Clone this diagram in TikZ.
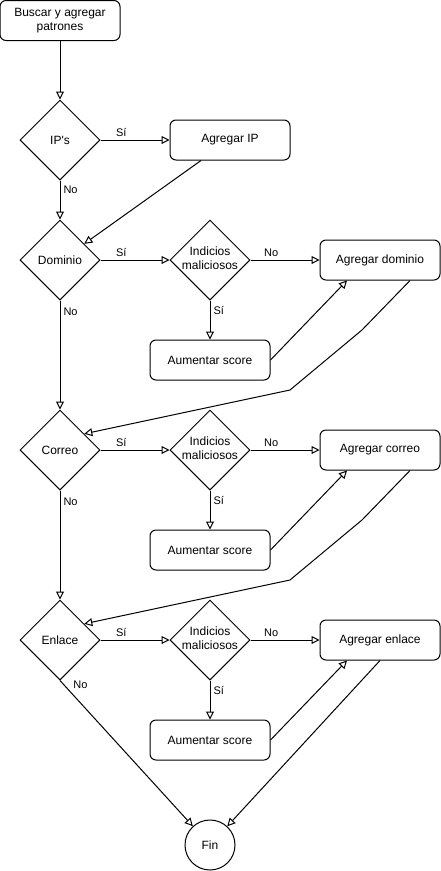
\documentclass[tikz,border=0pt]{standalone}
\usepackage{fontspec}
\setmainfont{Liberation Sans}
\usetikzlibrary{shapes.geometric,arrows.meta,calc}
\begin{document}
\begin{tikzpicture}[x=1pt,y=-1pt,
  every node/.style={font=\fontsize{12}{14}\selectfont},
  proc/.style={draw, rounded corners=6pt, minimum width=120pt, minimum height=40pt, inner sep=0pt, align=center, line width=1pt},
  decision/.style={draw, diamond, minimum width=80pt, minimum height=80pt, inner sep=0pt, align=center, line width=1pt},
  endc/.style={draw, circle, minimum size=50pt, inner sep=0pt, line width=1pt},
  arr/.style={draw, line width=1pt, -{Triangle[open, length=8pt, width=8pt]}},
  lbl/.style={font=\fontsize{11}{13}\selectfont, inner sep=1pt}
]
\useasboundingbox (0,0) rectangle (441,871);

\newcommand{\indtxt}{\makebox[40pt]{\begin{tabular}{@{}c@{}}Indicios\\maliciosos\end{tabular}}}

\node[proc] (start) at (60,20.5) {Buscar y agregar\\patrones};
\node[decision] (ip) at (60,140) {IP\textquotesingle s};
\node[proc] (agip) at (230,140) {Agregar IP};

\node[decision] (dom) at (60,260) {Dominio};
\node[decision] (ind1) at (210,260) {\indtxt};
\node[proc] (adom) at (380,260) {Agregar dominio};
\node[proc] (aum1) at (210,360) {Aumentar score};

\node[decision] (cor) at (60,450) {Correo};
\node[decision] (ind2) at (210,450) {\indtxt};
\node[proc] (acor) at (380,450) {Agregar correo};
\node[proc] (aum2) at (210,550) {Aumentar score};

\node[decision] (enl) at (60,640) {Enlace};
\node[decision] (ind3) at (210,640) {\indtxt};
\node[proc] (aenl) at (380,640) {Agregar enlace};
\node[proc] (aum3) at (210,740) {Aumentar score};

\node[endc] (fin) at (210,845) {Fin};

% top
\draw[arr] (start.south) -- (ip.north);
\draw[arr] (ip.east) -- node[lbl, pos=0.3, above=2pt]{Sí} (agip.west);
\draw[arr] (ip.south) -- node[lbl, pos=0.25, right=2pt]{No} (dom.north);
\draw[arr] ([xshift=-29pt]agip.south) -- ($(dom.north)!0.6!(dom.east)$);

% dominio row
\draw[arr] (dom.east) -- node[lbl, pos=0.3, above=2pt]{Sí} (ind1.west);
\draw[arr] (ind1.east) -- node[lbl, pos=0.3, above=2pt]{No} (adom.west);
\draw[arr] (ind1.south) -- node[lbl, pos=0.25, right=2pt]{Sí} (aum1.north);
\draw[arr] (aum1.east) -- ([xshift=-33pt]adom.south);
\draw[arr] (dom.south) -- node[lbl, pos=0.1, right=2pt]{No} (cor.north);
\coordinate (b1) at (362,330);
\coordinate (b2) at (290,390);
\draw[arr] ([xshift=30pt]adom.south) -- (b1) -- (b2) -- ($(cor.north)!0.6!(cor.east)$);

% correo row
\draw[arr] (cor.east) -- node[lbl, pos=0.3, above=2pt]{Sí} (ind2.west);
\draw[arr] (ind2.east) -- node[lbl, pos=0.3, above=2pt]{No} (acor.west);
\draw[arr] (ind2.south) -- node[lbl, pos=0.25, right=2pt]{Sí} (aum2.north);
\draw[arr] (aum2.east) -- ([xshift=-33pt]acor.south);
\draw[arr] (cor.south) -- node[lbl, pos=0.1, right=2pt]{No} (enl.north);
\coordinate (c1) at (362,520);
\coordinate (c2) at (290,580);
\draw[arr] ([xshift=30pt]acor.south) -- (c1) -- (c2) -- ($(enl.north)!0.6!(enl.east)$);

% enlace row
\draw[arr] (enl.east) -- node[lbl, pos=0.3, above=2pt]{Sí} (ind3.west);
\draw[arr] (ind3.east) -- node[lbl, pos=0.3, above=2pt]{No} (aenl.west);
\draw[arr] (ind3.south) -- node[lbl, pos=0.25, right=2pt]{Sí} (aum3.north);
\draw[arr] (aum3.east) -- ([xshift=-33pt]aenl.south);
\draw[arr] (enl.south) -- node[lbl, pos=0.03, right=8pt]{No} (fin);
\draw[arr] (aenl.south) -- (fin);
\end{tikzpicture}
\end{document}
